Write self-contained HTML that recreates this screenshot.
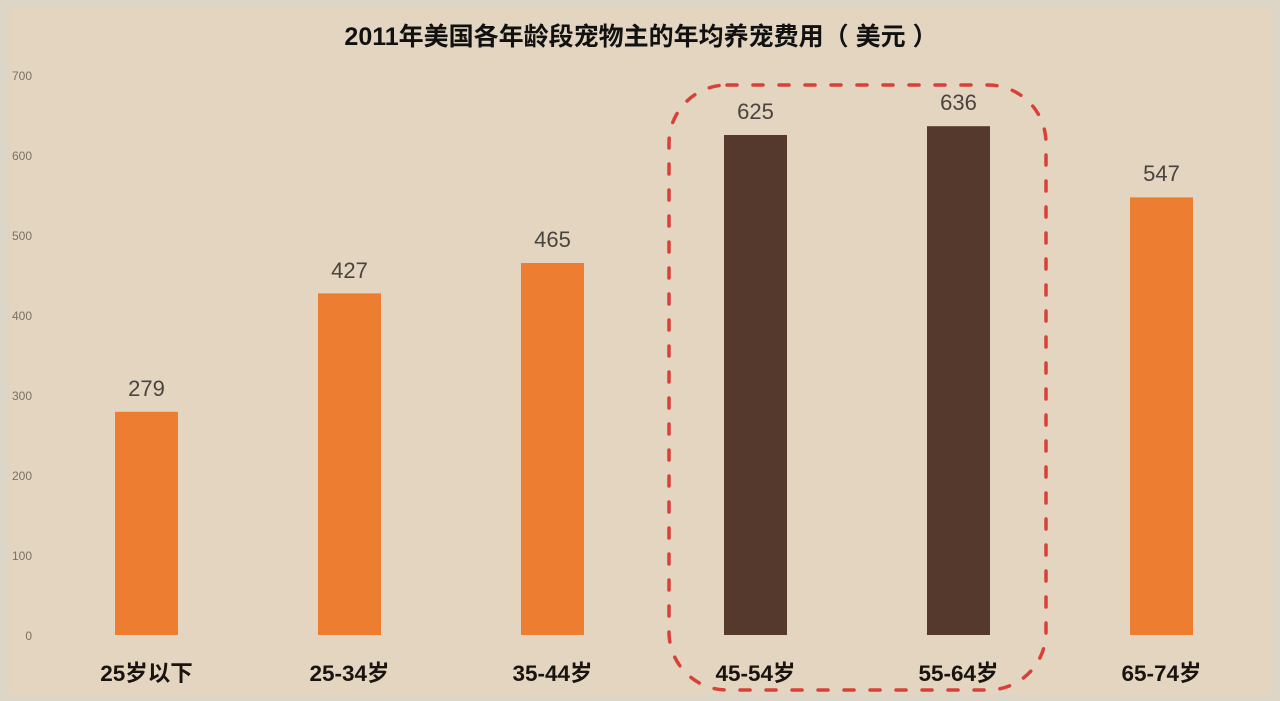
<!DOCTYPE html>
<html><head><meta charset="utf-8"><style>
html,body{margin:0;padding:0;}
body{width:1280px;height:701px;overflow:hidden;background:#ddd5c6;}
svg{display:block;}
</style></head><body>
<svg width="1280" height="701" viewBox="0 0 1280 701" xmlns="http://www.w3.org/2000/svg">
<rect x="0" y="0" width="1280" height="701" fill="#ddd5c6"/>
<rect x="10" y="8" width="1262" height="686" fill="#e3d5bf"/>
<text x="641" y="45" text-anchor="middle" font-family="Liberation Sans, Noto Sans CJK SC, sans-serif" font-weight="bold" font-size="25" fill="#111">2011年美国各年龄段宠物主的年均养宠费用（ 美元 ）</text>
<g font-family="Liberation Sans, sans-serif" font-size="12" fill="#7a7063" text-anchor="end">
<text x="32" y="80">700</text>
<text x="32" y="160">600</text>
<text x="32" y="240">500</text>
<text x="32" y="320">400</text>
<text x="32" y="400">300</text>
<text x="32" y="480">200</text>
<text x="32" y="560">100</text>
<text x="32" y="640">0</text>
</g>
<g>
<rect x="115" y="411.8" width="63" height="223.2" fill="#ed7d31"/>
<rect x="318" y="293.4" width="63" height="341.6" fill="#ed7d31"/>
<rect x="521" y="263" width="63" height="372" fill="#ed7d31"/>
<rect x="724" y="135" width="63" height="500" fill="#56392d"/>
<rect x="927" y="126.2" width="63" height="508.8" fill="#56392d"/>
<rect x="1130" y="197.4" width="63" height="437.6" fill="#ed7d31"/>
</g>
<g font-family="Liberation Sans, sans-serif" font-size="22" fill="#4a4440" text-anchor="middle">
<text x="146.5" y="396">279</text>
<text x="349.5" y="278">427</text>
<text x="552.5" y="247">465</text>
<text x="755.5" y="119">625</text>
<text x="958.5" y="110">636</text>
<text x="1161.5" y="181">547</text>
</g>
<g font-family="Liberation Sans, Noto Sans CJK SC, sans-serif" font-weight="bold" font-size="22.5" fill="#1a1410" text-anchor="middle">
<text x="146.5" y="681">25岁以下</text>
<text x="349.5" y="681">25-34岁</text>
<text x="552.5" y="681">35-44岁</text>
<text x="755.5" y="681">45-54岁</text>
<text x="958.5" y="681">55-64岁</text>
<text x="1161.5" y="681">65-74岁</text>
</g>
<rect x="669" y="85" width="377" height="605" rx="58" ry="58" fill="none" stroke="#d8413a" stroke-width="3.5" stroke-dasharray="10 16" stroke-linecap="round"/>
</svg>
</body></html>
